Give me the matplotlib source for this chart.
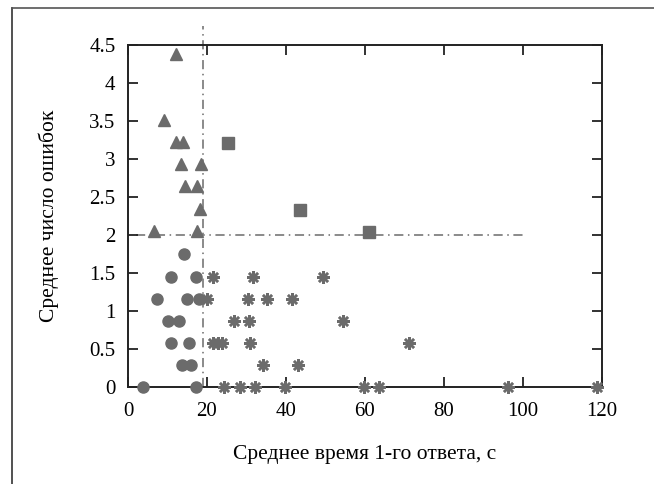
import matplotlib
matplotlib.use("Agg")
import matplotlib.pyplot as plt
from matplotlib.lines import Line2D

plt.rcParams["font.family"] = ["Liberation Serif", "DejaVu Serif"]

# треугольники
tri_x = [12.1, 9.0, 12.1, 14.0, 13.3, 18.4, 14.5, 17.4, 18.2, 6.5, 17.4]
tri_y = [4.38, 3.51, 3.22, 3.22, 2.93, 2.93, 2.64, 2.64, 2.34, 2.05, 2.05]

# квадраты
sq_x = [25.2, 43.6, 61.1]
sq_y = [3.21, 2.33, 2.04]

# круги
circ_x = [14.2, 10.9, 17.2, 7.3, 14.9, 18.1, 10.1, 12.8, 10.9, 15.4, 13.7, 15.9, 3.7, 17.2]
circ_y = [1.75, 1.45, 1.45, 1.16, 1.16, 1.16, 0.87, 0.87, 0.58, 0.58, 0.29, 0.29, 0.0, 0.0]

# звездочки
star_x = [21.6, 31.6, 49.4, 20.1, 30.5, 35.1, 41.5, 26.9, 30.6, 54.4,
          21.6, 22.7, 23.7, 30.9, 71.1, 34.3, 43.1,
          24.4, 28.4, 32.2, 39.7, 59.7, 63.5, 96.3, 118.7]
star_y = [1.45, 1.45, 1.45, 1.16, 1.16, 1.16, 1.16, 0.87, 0.87, 0.87,
          0.58, 0.58, 0.58, 0.58, 0.58, 0.29, 0.29,
          0, 0, 0, 0, 0, 0, 0, 0]

x_thr = 18.9
y_thr = 2.0

grey = "#6b6b6b"

fig = plt.figure(figsize=(6.54, 4.84), dpi=100)
ax = fig.add_axes([0.1957, 0.2004, 0.7248, 0.7066])

ax.plot([x_thr, x_thr], [0, 4.75], color=grey, lw=1.1, ls=(0, (6, 3, 1, 3)), clip_on=False, zorder=1)
ax.plot([2, 100], [y_thr, y_thr], color=grey, lw=1.1, ls=(0, (6, 3, 1, 3)), zorder=1)

ax.plot(tri_x, tri_y, "^", color=grey, ms=9, mec=grey, clip_on=False, zorder=3)
ax.plot(sq_x, sq_y, "s", color=grey, ms=8, mec=grey, clip_on=False, zorder=3)
ax.plot(circ_x, circ_y, "o", color=grey, ms=8, mec=grey, clip_on=False, zorder=3)
ax.plot(star_x, star_y, marker=(8, 2, 0), ls="none", color=grey, ms=9, mew=1.8, clip_on=False, zorder=3)

ax.set_xlim(0, 120)
ax.set_ylim(0, 4.5)
ax.set_xticks(range(0, 121, 20))
yt = [i * 0.5 for i in range(10)]
ax.set_yticks(yt)
ax.set_yticklabels(["0", "0.5", "1", "1.5", "2", "2.5", "3", "3.5", "4", "4.5"])
ax.tick_params(direction="in", length=7, width=1.3, top=True, right=True,
               labelsize=15, color="#222222")
ax.tick_params(axis="x", pad=11)
ax.tick_params(axis="y", pad=9)
for s in ax.spines.values():
    s.set_linewidth(1.4)
    s.set_color("#222222")

ax.set_xlabel("Среднее время 1-го ответа, с", fontsize=15.5, labelpad=17)
ax.set_ylabel("Среднее число ошибок", fontsize=15.5, labelpad=22)

# рамка рисунка
fig.add_artist(Line2D([12 / 654, 12 / 654], [0, 1 - 8 / 484], color="#333333", lw=1.2))
fig.add_artist(Line2D([12 / 654, 1], [1 - 8 / 484, 1 - 8 / 484], color="#555555", lw=1.2))

fig.savefig("out.png", dpi=100)
